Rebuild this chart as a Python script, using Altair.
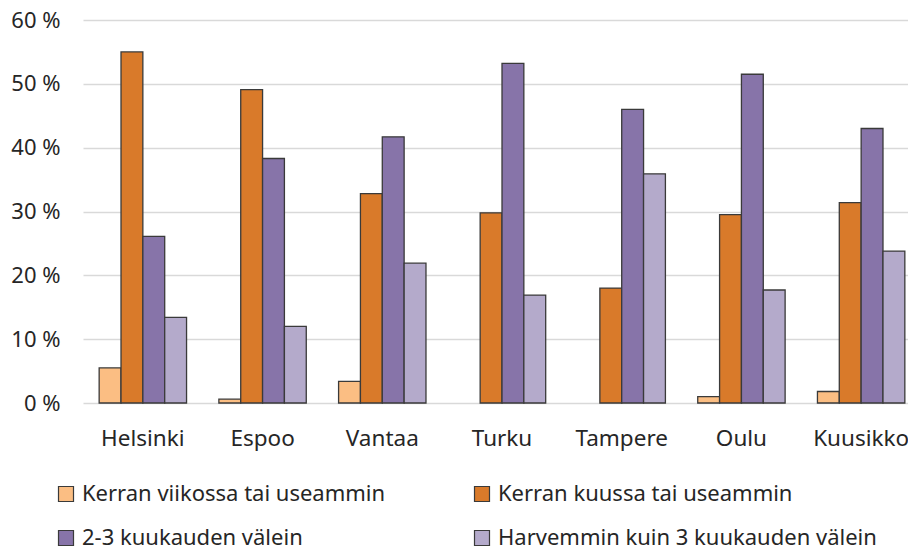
import altair as alt
import pandas as pd

cities = ["Helsinki", "Espoo", "Vantaa", "Turku", "Tampere", "Oulu", "Kuusikko"]
series = [
    "Kerran viikossa tai useammin",
    "Kerran kuussa tai useammin",
    "2-3 kuukauden välein",
    "Harvemmin kuin 3 kuukauden välein",
]
weekly = [5.5, 0.6, 3.4, 0.0, 0.0, 1.0, 1.8]
monthly = [55.0, 49.1, 32.8, 29.8, 18.0, 29.5, 31.4]
bimonthly = [26.1, 38.3, 41.7, 53.2, 46.0, 51.5, 43.0]
rarely = [13.4, 12.0, 21.9, 16.9, 35.9, 17.7, 23.8]
colors = ["#FBBE83", "#D97A2A", "#8774A9", "#B4AACB"]
y_ticks = [0, 10, 20, 30, 40, 50, 60]

rows = []
for s, vals in zip(series, [weekly, monthly, bimonthly, rarely]):
    for c, v in zip(cities, vals):
        rows.append({"kaupunki": c, "sarja": s, "osuus": v})
df = pd.DataFrame(rows)

FONT = "Noto Sans"

chart = (
    alt.Chart(df)
    .transform_filter("datum.osuus > 0")
    .mark_bar(stroke="#3a3a3a", strokeWidth=1.3)
    .encode(
        x=alt.X(
            "kaupunki:N",
            sort=cities,
            title=None,
            scale=alt.Scale(paddingInner=0.27, paddingOuter=0.135, range=[0, 838]),
            axis=alt.Axis(labelAngle=0, domain=False, ticks=False, labelPadding=24,
                          labelFontSize=22.5, labelFont=FONT, labelColor="#262626"),
        ),
        xOffset=alt.XOffset("sarja:N", sort=series, scale=alt.Scale(paddingInner=0, paddingOuter=0)),
        y=alt.Y(
            "osuus:Q",
            title=None,
            scale=alt.Scale(domain=[0, 60], nice=False),
            axis=alt.Axis(values=y_ticks, labelExpr="datum.value + ' %'", domain=False, ticks=False,
                          labelPadding=23, labelFontSize=22, labelFont=FONT, labelColor="#262626",
                          gridColor="#d9d9d9", gridWidth=1.5),
        ),
        color=alt.Color(
            "sarja:N",
            sort=series,
            scale=alt.Scale(domain=series, range=colors),
            legend=alt.Legend(
                title=None,
                orient="none",
                direction="horizontal",
                legendX=-28,
                legendY=463,
                columns=2,
                columnPadding=85,
                rowPadding=22,
                symbolType="square",
                symbolSize=225,
                symbolStrokeColor="#3a3a3a",
                symbolStrokeWidth=1.2,
                labelFontSize=22,
                labelFont=FONT,
                labelColor="#262626",
                labelLimit=600,
                labelOffset=5,
            ),
        ),
    )
    .properties(
        width=825,
        height=383,
        autosize=alt.AutoSizeParams(type="none"),
        padding={"left": 75, "top": 12, "right": 0, "bottom": 146},
    )
    .configure_view(stroke=None)
)

chart.save("out.html", embed_options={"renderer": "svg", "actions": False})
